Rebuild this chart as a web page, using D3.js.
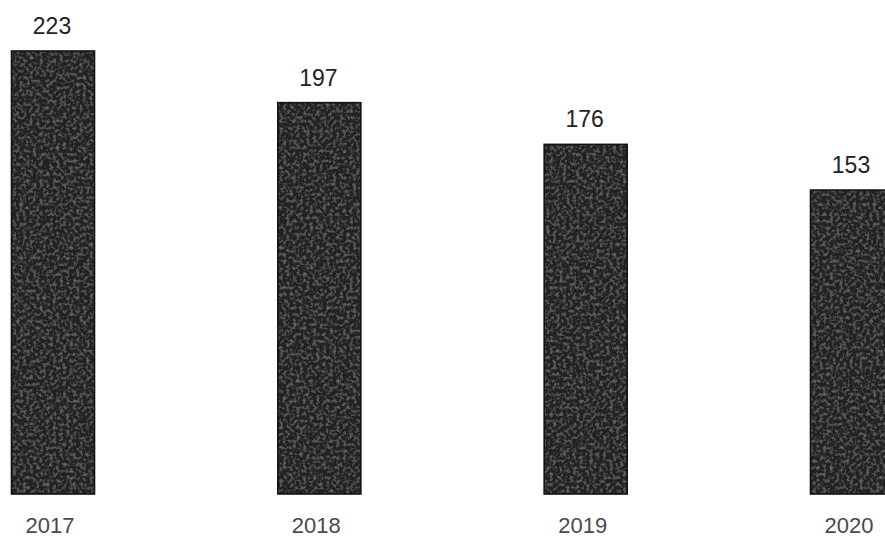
<!DOCTYPE html>
<html>
<head>
<meta charset="utf-8">
<script src="https://cdn.jsdelivr.net/npm/d3@7"></script>
<style>
  html, body { margin: 0; padding: 0; background: #fff; }
  svg { display: block; }
</style>
</head>
<body>
<svg id="chart" width="885" height="537"></svg>
<script>
// Yearly totals
const years = ["2017", "2018", "2019", "2020"];
const totals = [223, 197, 176, 153];

const W = 885, H = 537;
const baseline = 494;

const svg = d3.select("#chart");

// Soft mottled print texture for the bars
const defs = svg.append("defs");
const grain = defs.append("filter")
  .attr("id", "grain")
  .attr("x", 0).attr("y", 0).attr("width", "100%").attr("height", "100%");
grain.append("feTurbulence")
  .attr("type", "fractalNoise")
  .attr("baseFrequency", 0.3)
  .attr("numOctaves", 2)
  .attr("seed", 7)
  .attr("result", "noise");
grain.append("feColorMatrix")
  .attr("in", "noise")
  .attr("type", "matrix")
  .attr("values", "0 0 0 0 0.30  0 0 0 0 0.30  0 0 0 0 0.30  0 0 0 1.1 -0.5")
  .attr("result", "specks");
grain.append("feComposite")
  .attr("in", "specks").attr("in2", "SourceGraphic")
  .attr("operator", "in").attr("result", "clipped");
const merge = grain.append("feMerge");
merge.append("feMergeNode").attr("in", "SourceGraphic");
merge.append("feMergeNode").attr("in", "clipped");

// Scales
const x = d3.scalePoint().domain(years).range([53, 852]);
const barW = 83;
const y = d3.scaleLinear().domain([0, 223]).range([baseline, 51]);

const data = years.map((yr, i) => ({ year: yr, value: totals[i] }));

const bars = svg.append("g");
bars.selectAll("rect.fill")
  .data(data)
  .join("rect")
  .attr("class", "fill")
  .attr("x", d => x(d.year) - barW / 2)
  .attr("y", d => y(d.value))
  .attr("width", barW)
  .attr("height", d => baseline - y(d.value))
  .attr("fill", "#232323")
  .attr("filter", "url(#grain)");

bars.selectAll("rect.edge")
  .data(data)
  .join("rect")
  .attr("class", "edge")
  .attr("x", d => x(d.year) - barW / 2)
  .attr("y", d => y(d.value))
  .attr("width", barW)
  .attr("height", d => baseline - y(d.value))
  .attr("fill", "none")
  .attr("stroke", "#121212")
  .attr("stroke-width", 1.6);

// Value labels above bars
svg.append("g").selectAll("text")
  .data(data)
  .join("text")
  .attr("x", d => x(d.year) - 1)
  .attr("y", d => y(d.value) - 17)
  .attr("text-anchor", "middle")
  .attr("font-family", "Liberation Sans, Arial, sans-serif")
  .attr("font-size", 23)
  .attr("fill", "#222")
  .text(d => d.value);

// Year labels along the bottom
svg.append("g").selectAll("text")
  .data(data)
  .join("text")
  .attr("x", d => x(d.year) - 3)
  .attr("y", 533)
  .attr("text-anchor", "middle")
  .attr("font-family", "Liberation Sans, Arial, sans-serif")
  .attr("font-size", 22)
  .attr("fill", "#4a4a4a")
  .text(d => d.year);
</script>
</body>
</html>
